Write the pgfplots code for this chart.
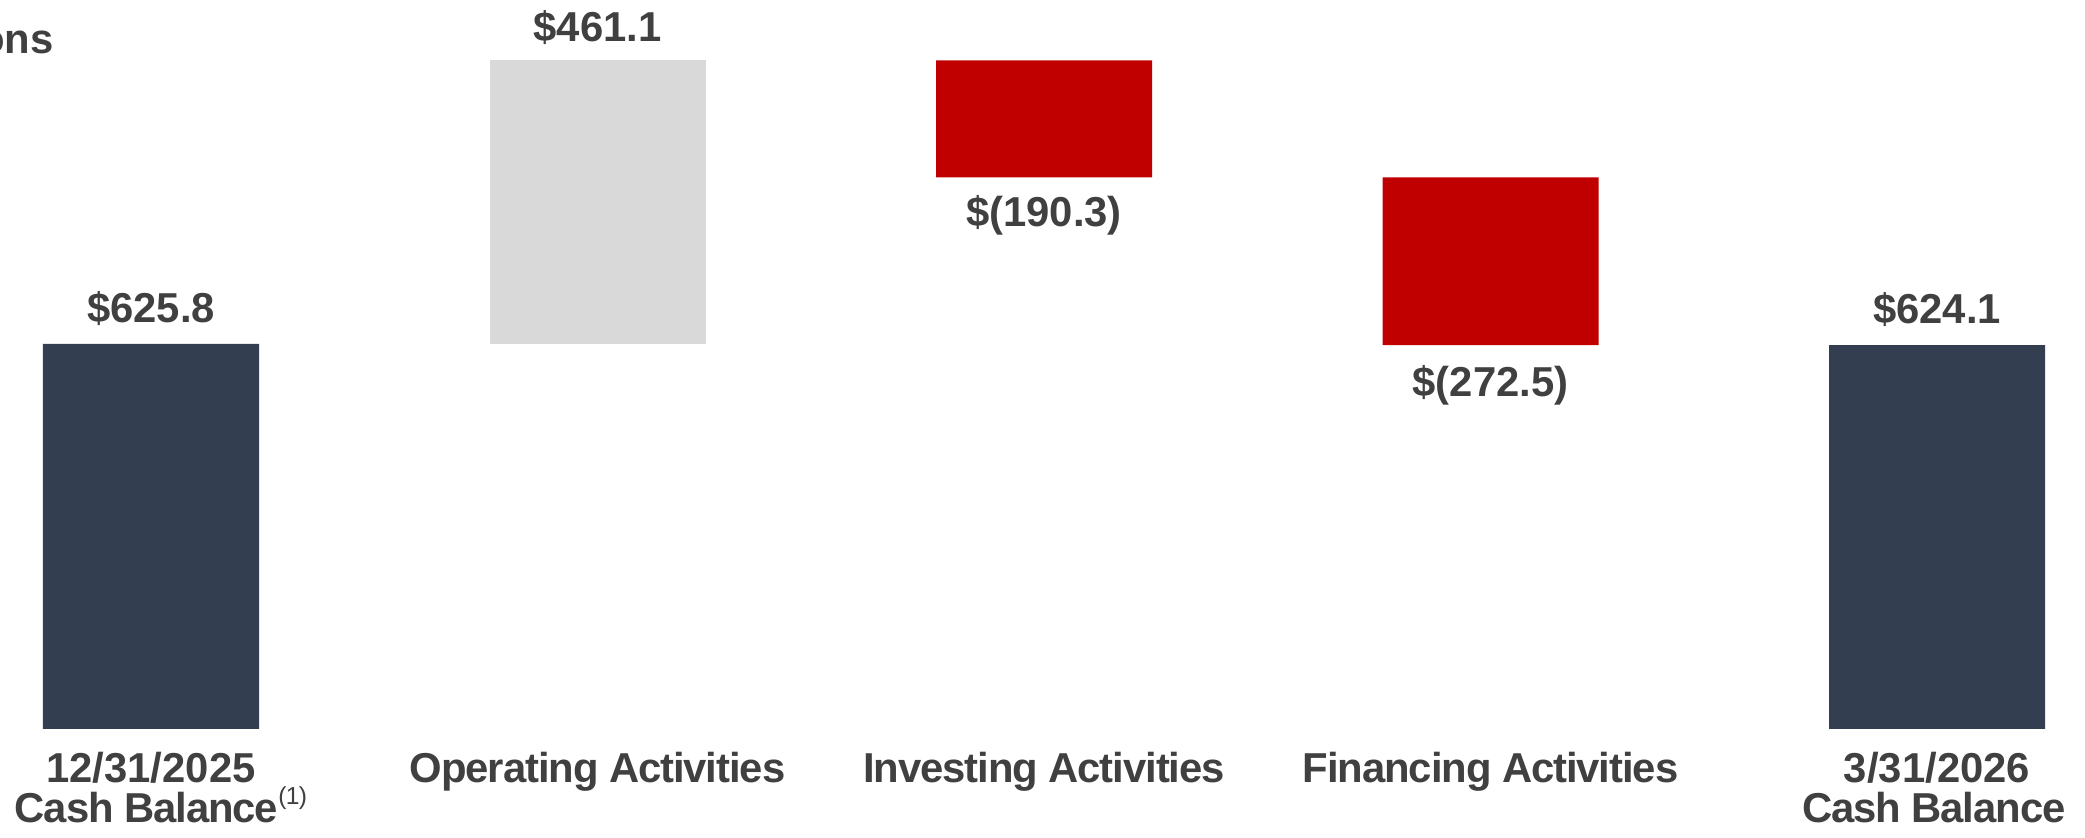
\documentclass[border=0pt]{standalone}
\usepackage{fontspec}
\setmainfont{Liberation Sans}
\usepackage{pgfplots}
\pgfplotsset{compat=1.18}
\definecolor{cashnavy}{HTML}{333F50}
\definecolor{opgray}{HTML}{D9D9D9}
\definecolor{outred}{HTML}{C00000}
\definecolor{txtgray}{HTML}{404040}

\newcommand{\lbl}{\fontsize{11.9}{13}\selectfont\bfseries\color{txtgray}}
\newcommand{\wlbl}{\lbl\addfontfeature{LetterSpace=-2.6}}

\begin{document}
\begin{tikzpicture}
\begin{axis}[
  scale only axis, width=20.85cm, height=8.38cm,
  xmin=-0.3382, xmax=4.3315, ymin=-177.2, ymax=1185,
  axis lines=none, ticks=none, clip=false,
  ybar stacked, bar width=0.4838,
]
% invisible base of the floating bars
\addplot[draw=none, fill=none] coordinates
  {(0,0) (1,625.8) (2,896.6) (3,624.1) (4,0)};
\addplot[draw=none, fill=cashnavy] coordinates
  {(0,625.8) (1,0) (2,0) (3,0) (4,624.1)};
\addplot[draw=none, fill=opgray] coordinates
  {(0,0) (1,461.1) (2,0) (3,0) (4,0)};
\addplot[draw=none, fill=outred] coordinates
  {(0,0) (1,0) (2,190.3) (3,272.5) (4,0)};

% value labels
\node[anchor=base, font=\lbl] at (axis cs:0,660.0) {\$625.8};
\node[anchor=base, font=\lbl] at (axis cs:1,1116.7) {\$461.1};
\node[anchor=base, font=\lbl] at (axis cs:2,816.0) {\$(190.3)};
\node[anchor=base, font=\lbl] at (axis cs:3,541.0) {\$(272.5)};
\node[anchor=base, font=\lbl] at (axis cs:4,658.3) {\$624.1};

% category labels
\node[anchor=base, font=\lbl] at (axis cs:0,-86.2) {12/31/2025};
\node[anchor=base, font=\wlbl] at (axis cs:-0.01,-152.8)
  {Cash Balance\rlap{\raisebox{5.4pt}{\fontsize{7}{8}\selectfont\mdseries(1)}}};
\node[anchor=base, font=\wlbl] at (axis cs:1,-86.2) {Operating Activities};
\node[anchor=base, font=\wlbl] at (axis cs:2,-86.2) {Investing Activities};
\node[anchor=base, font=\wlbl] at (axis cs:3,-86.2) {Financing Activities};
\node[anchor=base, font=\lbl] at (axis cs:4,-86.2) {3/31/2026};
\node[anchor=base, font=\wlbl] at (axis cs:3.993,-152.8) {Cash Balance};

% unit note, cut by the left edge
\node[anchor=base east, font=\lbl, inner xsep=0pt] at (axis cs:-0.217,1098.8) {\$ in Millions};

\coordinate (A) at (rel axis cs:0,0);
\coordinate (B) at (rel axis cs:1,1);
\end{axis}
\pgfresetboundingbox
\path[use as bounding box] (A) rectangle (B);
\end{tikzpicture}
\end{document}
